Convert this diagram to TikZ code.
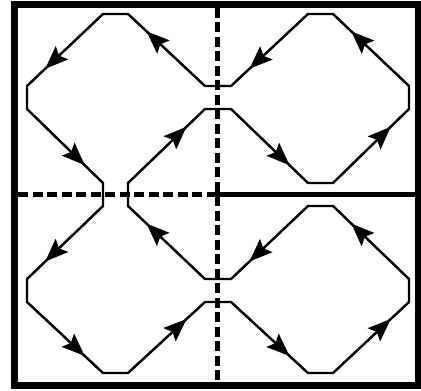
\documentclass[tikz,border=0pt]{standalone}
\usetikzlibrary{arrows.meta,decorations.markings}
\tikzset{
  frame/.style={line width=7pt},
  sepln/.style={line width=5pt},
  dsepln/.style={line width=5pt,dash pattern=on 10pt off 4.5pt},
  loopln/.style={line width=2.2pt,line join=miter},
  flow/.style={line width=2.2pt,
    postaction={decorate},decoration={markings,
      mark=at position 0.76 with {\arrow{Stealth[length=23pt,width=18pt,inset=4pt]}}}}, % oriented diagonal
}
\begin{document}
\begin{tikzpicture}[x=1pt,y=-1pt]
  \useasboundingbox (0,0) rectangle (421,391);
  % outer frame and the cell boundaries
  \draw[frame] (14.5,4.5) rectangle (418,385);
  \draw[dsepln] (217.5,7.5) -- (217.5,382);
  \draw[dsepln] (18,194.5) -- (217.5,194.5);
  \draw[sepln] (213,194.5) -- (415,194.5);
  % one closed orbit through the four cells
  \draw[loopln] (128,14) -- (103,14) -- (27,86) -- (27,109) -- (103,183)
    -- (103,206) -- (27,279) -- (27,302) -- (103,373) -- (128,373)
    -- (205,302) -- (231,302) -- (308,373) -- (333,373) -- (409,302)
    -- (409,279) -- (333,206) -- (308,206) -- (231,279) -- (205,279)
    -- (128,206) -- (128,183) -- (205,109) -- (231,109) -- (308,183)
    -- (333,183) -- (409,109) -- (409,86) -- (333,14) -- (308,14)
    -- (231,86) -- (205,86) -- cycle;
  % arrows on the diagonals
  \foreach \a/\b in {{103,14}/{27,86},{27,109}/{103,183},{103,206}/{27,279},
      {27,302}/{103,373},{128,373}/{205,302},{231,302}/{308,373},
      {333,373}/{409,302},{409,279}/{333,206},{308,206}/{231,279},
      {205,279}/{128,206},{128,183}/{205,109},{231,109}/{308,183},
      {333,183}/{409,109},{409,86}/{333,14},{308,14}/{231,86},
      {205,86}/{128,14}}
    \draw[flow] (\a) -- (\b);
\end{tikzpicture}
\end{document}
